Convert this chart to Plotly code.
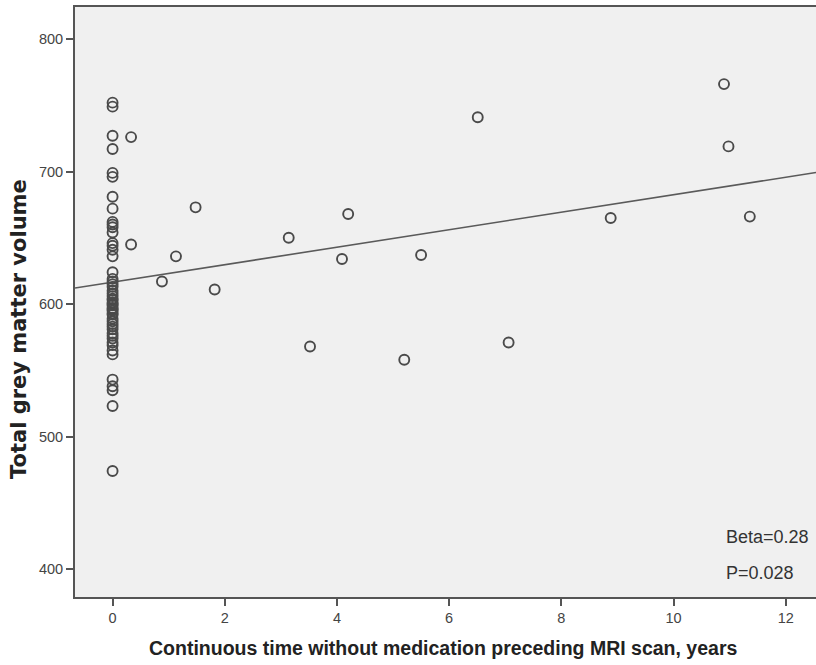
import plotly.graph_objects as go

# Points at x = 0 (no time without medication)
zero_y = [752, 749, 727, 717, 699, 696, 681, 672, 662, 660, 658, 654, 646, 644,
          641, 636, 624, 619, 617, 615, 613, 610, 608, 606, 604, 603, 601, 600,
          599, 597, 596, 595, 593, 592, 589, 587, 585, 583, 581, 578, 576, 574,
          571, 569, 565, 562, 543, 538, 535, 523, 474]

# Points with x > 0
other_x = [0.33, 0.33, 0.88, 1.13, 1.48, 1.82, 3.14, 3.52, 4.09, 4.20, 5.20,
           5.50, 6.51, 7.06, 8.88, 10.90, 10.98, 11.36]
other_y = [726, 645, 617, 636, 673, 611, 650, 568, 634, 668, 558, 637, 741,
           571, 665, 766, 719, 666]

x_vals = [0.0] * len(zero_y) + other_x
y_vals = zero_y + other_y

# Fit line
fit_intercept = 616.5
fit_slope = 6.6
x_range = [-0.67, 12.54]
y_range = [378.9, 824.2]
line_x = x_range
line_y = [fit_intercept + fit_slope * v for v in line_x]

x_ticks = [0, 2, 4, 6, 8, 10, 12]
y_ticks = [400, 500, 600, 700, 800]

x_title = "Continuous time without medication preceding MRI scan, years"
y_title = "Total grey matter volume"
stats = ["Beta=0.28", "P=0.028"]

grey = "#555555"

fig = go.Figure()
fig.add_trace(go.Scatter(
    x=line_x, y=line_y, mode="lines",
    line=dict(color="#5a5a5a", width=1.6), hoverinfo="skip", showlegend=False))
fig.add_trace(go.Scatter(
    x=x_vals, y=y_vals, mode="markers",
    marker=dict(symbol="circle-open", size=10, color="#4a4a4a",
                line=dict(width=1.9, color="#4a4a4a")),
    showlegend=False))

fig.update_layout(
    width=816, height=665,
    margin=dict(l=75, r=0, t=7, b=68),
    paper_bgcolor="white", plot_bgcolor="#f0f0f0",
    font=dict(family="Liberation Sans, Arial, sans-serif", color="#444444"),
    xaxis=dict(range=x_range, tickvals=x_ticks, ticks="outside", ticklen=7,
               tickwidth=1.5, tickcolor=grey, showgrid=False, zeroline=False,
               showline=True, linecolor=grey, linewidth=2, mirror=True,
               tickfont=dict(size=14.5, color="#444444")),
    yaxis=dict(range=y_range, tickvals=y_ticks, ticks="outside", ticklen=7,
               tickwidth=1.5, tickcolor=grey, showgrid=False, zeroline=False,
               showline=True, linecolor=grey, linewidth=2,
               tickfont=dict(size=14.5, color="#444444")),
    annotations=[
        dict(text=f"<b>{x_title}</b>", xref="paper", yref="paper",
             x=(443 - 75) / 741, y=(597 - 648) / 590, xanchor="center",
             yanchor="middle", showarrow=False,
             font=dict(size=19.5, color="#222222")),
        dict(text=f"<b>{y_title}</b>", xref="paper", yref="paper",
             x=(19 - 75) / 741, y=(597 - 329) / 590, xanchor="center",
             yanchor="middle", textangle=-90, showarrow=False,
             font=dict(family="DejaVu Sans", size=21, color="#222222")),
        dict(text=stats[0], xref="paper", yref="paper",
             x=(724 - 75) / 741, y=(597 - 537) / 590, xanchor="left",
             yanchor="middle", showarrow=False,
             font=dict(size=18, color="#333333")),
        dict(text=stats[1], xref="paper", yref="paper",
             x=(724 - 75) / 741, y=(597 - 573) / 590, xanchor="left",
             yanchor="middle", showarrow=False,
             font=dict(size=18, color="#333333")),
    ],
)

fig.write_html(
    "out.html",
    config={"displayModeBar": False},
    post_script="document.body.style.margin='0';document.body.style.overflow='hidden';",
)
